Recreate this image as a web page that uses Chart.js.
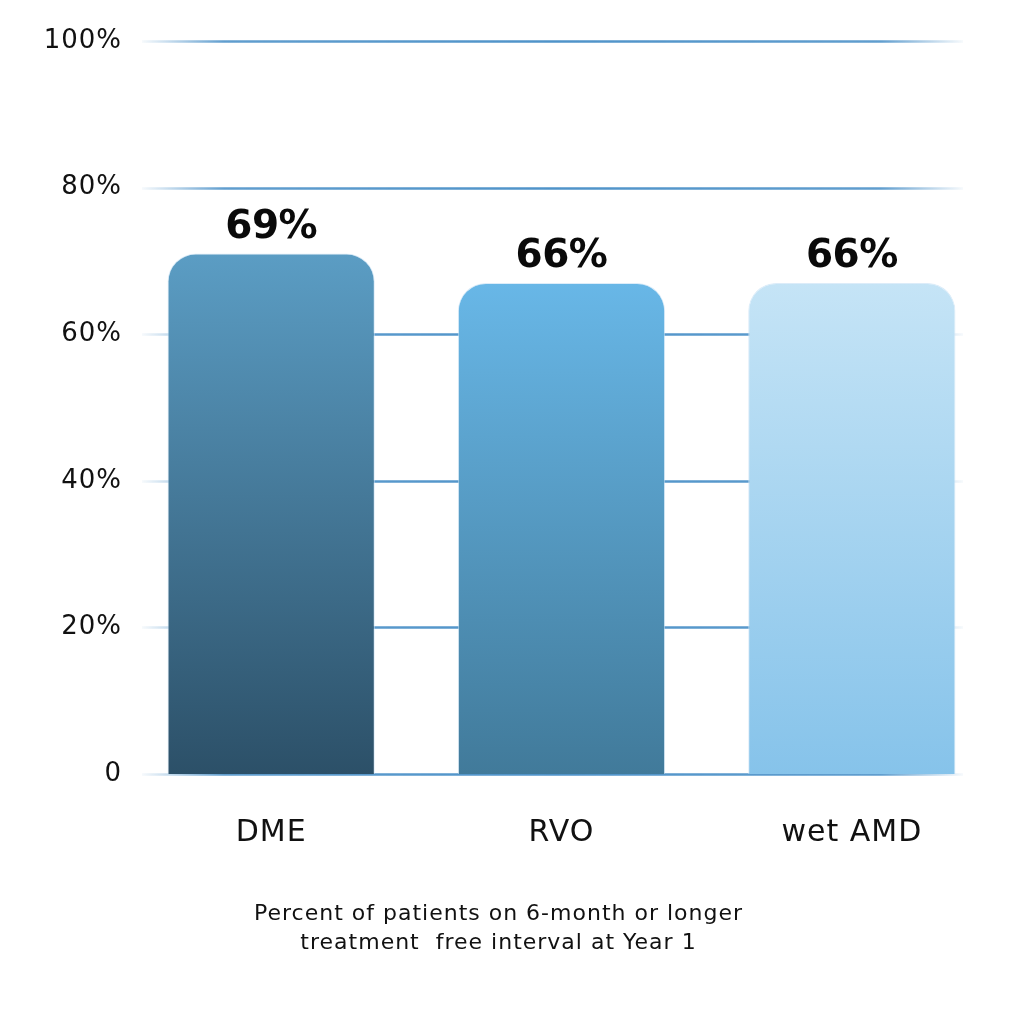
<!DOCTYPE html>
<html>
<head>
<meta charset="utf-8">
<script src="https://cdn.jsdelivr.net/npm/chart.js@4.4.1/dist/chart.umd.min.js"></script>
<style>
  html, body { margin: 0; padding: 0; background: #fff; }
  #wrap { width: 1011px; height: 1023px; }
</style>
</head>
<body>
<div id="wrap"><canvas id="intervalChart" width="1011" height="1023"></canvas></div>
<script>
// veriler
const categories = ['DME', 'RVO', 'wet AMD'];
const barHeights = [71, 67, 67];             // bar tops as drawn in the picture
const valueLabels = ['69%', '66%', '66%'];   // printed values above bars
const yTicks = [0, 20, 40, 60, 80, 100];
const yTickLabels = ['0', '20%', '40%', '60%', '80%', '100%'];
const titleLines = ['Percent of patients on 6-month or longer', 'treatment  free interval at Year 1'];

// top -> bottom colours of each bar
const barTopColors = ['#5b9dc4', '#68b7e7', '#c5e4f6'];
const barBottomColors = ['#2c5068', '#417a9a', '#86c3ea'];

const FONT = "'DejaVu Sans', sans-serif";

// a bit of tracking for the wide look of the original lettering
const tracking = {
    id: 'tracking',
    beforeLayout(chart) {
        chart.ctx.letterSpacing = '1px';
    },
    beforeDraw(chart) {
        chart.ctx.letterSpacing = '1px';
    }
};

// faded horizontal grid lines, drawn behind the bars
const fadedGrid = {
    id: 'fadedGrid',
    beforeDatasetsDraw(chart) {
        const { ctx, chartArea, scales } = chart;
        const x0 = chartArea.left + 16;
        const x1 = chartArea.right - 34;
        ctx.save();
        yTicks.forEach(v => {
            const y = Math.round(scales.y.getPixelForValue(v)) + 0.5;
            const g = ctx.createLinearGradient(x0, 0, x1, 0);
            g.addColorStop(0, 'rgba(79,147,201,0.05)');
            g.addColorStop(0.1, 'rgba(79,147,201,0.9)');
            g.addColorStop(0.5, 'rgba(79,147,201,1)');
            g.addColorStop(0.9, 'rgba(79,147,201,0.9)');
            g.addColorStop(1, 'rgba(79,147,201,0.05)');
            ctx.strokeStyle = g;
            ctx.lineWidth = 2.5;
            ctx.beginPath();
            ctx.moveTo(x0, y);
            ctx.lineTo(x1, y);
            ctx.stroke();
        });
        ctx.restore();
    }
};

// value text above every bar
const barValues = {
    id: 'barValues',
    afterDatasetsDraw(chart) {
        const { ctx } = chart;
        const meta = chart.getDatasetMeta(0);
        ctx.save();
        ctx.letterSpacing = '-0.5px';
        ctx.fillStyle = '#0a0a0a';
        ctx.font = `bold 39px ${FONT}`;
        ctx.textAlign = 'center';
        ctx.textBaseline = 'alphabetic';
        meta.data.forEach((bar, i) => {
            ctx.fillText(valueLabels[i], bar.x, bar.y - 16);
        });
        ctx.restore();
    }
};

new Chart(document.getElementById('intervalChart').getContext('2d'), {
    type: 'bar',
    data: {
        labels: categories,
        datasets: [{
            data: barHeights,
            backgroundColor: (context) => {
                const { chart, dataIndex } = context;
                if (!chart.chartArea) return barBottomColors[dataIndex];
                const yTop = chart.scales.y.getPixelForValue(barHeights[dataIndex]);
                const yBottom = chart.scales.y.getPixelForValue(0);
                const g = chart.ctx.createLinearGradient(0, yTop, 0, yBottom);
                g.addColorStop(0, barTopColors[dataIndex]);
                g.addColorStop(1, barBottomColors[dataIndex]);
                return g;
            },
            borderColor: 'rgba(205,228,246,0.7)',
            borderWidth: 1,
            borderSkipped: 'bottom',
            borderRadius: { topLeft: 28, topRight: 28, bottomLeft: 0, bottomRight: 0 },
            barPercentage: 0.714,
            categoryPercentage: 1.0
        }]
    },
    options: {
        responsive: false,
        animation: false,
        layout: { padding: { top: 41, right: 14, left: 0, bottom: 0 } },
        plugins: {
            legend: { display: false },
            tooltip: { enabled: false },
            title: {
                display: true,
                position: 'bottom',
                text: titleLines,
                color: '#111',
                font: { family: FONT, size: 22, weight: '500', lineHeight: '29px' },
                padding: { top: 49, bottom: 65 }
            }
        },
        scales: {
            x: {
                afterFit: (scale) => { scale.height = 77; },
                grid: { display: false, drawTicks: false },
                border: { display: false },
                ticks: {
                    color: '#111',
                    font: { family: FONT, size: 30 },
                    padding: 41
                }
            },
            y: {
                min: 0,
                max: 100,
                afterFit: (scale) => { scale.width = 126; },
                afterBuildTicks: (scale) => { scale.ticks = yTicks.map(v => ({ value: v })); },
                grid: { display: false, drawTicks: false },
                border: { display: false },
                ticks: {
                    color: '#111',
                    font: { family: FONT, size: 26 },
                    crossAlign: 'near',
                    padding: 4,
                    callback: (value) => yTickLabels[yTicks.indexOf(value)]
                }
            }
        }
    },
    plugins: [tracking, fadedGrid, barValues]
});
</script>
</body>
</html>
